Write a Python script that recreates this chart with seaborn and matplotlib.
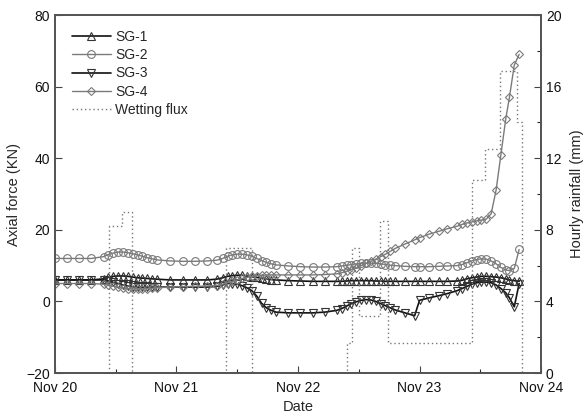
import matplotlib
matplotlib.use("Agg")
import matplotlib.pyplot as plt
import seaborn as sns
import pandas as pd
from matplotlib.ticker import MultipleLocator

# time in days since Nov 20 00:00
days = [0.0, 0.1, 0.2, 0.3,
        0.40, 0.44, 0.48, 0.52, 0.56, 0.60, 0.64, 0.68, 0.72, 0.76, 0.80, 0.84,
        0.95, 1.05, 1.15, 1.25, 1.33,
        1.38, 1.42, 1.46, 1.50, 1.54, 1.58, 1.62, 1.66, 1.70, 1.74, 1.78, 1.82,
        1.92, 2.02, 2.12, 2.22, 2.32,
        2.36, 2.40, 2.44, 2.48, 2.52, 2.56, 2.60, 2.64, 2.68, 2.72, 2.76, 2.80,
        2.88, 2.96, 3.00, 3.08, 3.16, 3.23, 3.31,
        3.35, 3.39, 3.43, 3.47, 3.51, 3.55, 3.59, 3.63, 3.67, 3.71, 3.74, 3.78, 3.82]

sg1 = [6, 6, 6, 6,
       6.3, 6.8, 7, 7.1, 7.1, 7, 6.8, 6.6, 6.5, 6.4, 6.3, 6.2,
       6, 6, 6, 6, 6.2,
       6.6, 7, 7.2, 7.3, 7.3, 7.1, 6.9, 6.7, 6.5, 6.3, 6.1, 6,
       5.8, 5.7, 5.6, 5.6, 5.6,
       5.6, 5.7, 5.8, 5.8, 5.8, 5.8, 5.8, 5.7, 5.7, 5.6, 5.6, 5.6,
       5.6, 5.6, 5.6, 5.6, 5.6, 5.6, 5.7,
       5.9, 6.3, 6.6, 6.8, 7, 7, 6.9, 6.8, 6.6, 6.3, 6, 5.8, 5.6]

sg2 = [12, 12, 12, 12,
       12.5, 13.1, 13.5, 13.8, 13.8, 13.6, 13.3, 13, 12.6, 12.2, 11.9, 11.6,
       11.3, 11.2, 11.2, 11.3, 11.5,
       12, 12.6, 13, 13.2, 13.2, 13, 12.6, 12, 11.4, 10.9, 10.5, 10.2,
       9.9, 9.7, 9.6, 9.6, 9.7,
       9.9, 10.1, 10.3, 10.5, 10.6, 10.7, 10.7, 10.6, 10.5, 10.3, 10.1, 10,
       9.8, 9.7, 9.7, 9.7, 9.8, 9.9, 10,
       10.3, 10.8, 11.3, 11.7, 11.9, 11.8, 11.3, 10.5, 9.5, 8.8, 8.6, 9.2, 14.5]

sg3 = [6, 6, 6, 6,
       6, 5.7, 5.3, 5, 4.6, 4.3, 4.1, 4, 4, 4, 4, 4,
       4, 4, 4, 4, 4.2,
       4.6, 5, 5, 4.8, 4.4, 3.8, 3, 1.5, -0.5, -1.8, -2.5, -3,
       -3.2, -3.2, -3.2, -3, -2.5,
       -2, -1.3, -0.6, -0.1, 0.3, 0.5, 0.4, 0, -0.6, -1.2, -1.8, -2.4,
       -3.2, -4, 0.3, 1, 1.6, 2.2, 3,
       3.6, 4.2, 4.8, 5.2, 5.4, 5.4, 5.2, 4.6, 3.6, 2.4, 1, -1.5, 5]

sg4 = [5, 5, 5, 5,
       4.8, 4.5, 4.2, 4, 3.8, 3.6, 3.5, 3.5, 3.5, 3.6, 3.7, 3.8,
       4, 4.1, 4.2, 4.3, 4.4,
       4.8, 5.2, 5.6, 6, 6.4, 6.7, 7, 7.2, 7.3, 7.4, 7.4, 7.4,
       7.4, 7.4, 7.4, 7.5, 7.7,
       8, 8.4, 8.9, 9.4, 10, 10.6, 11.2, 11.8, 12.5, 13.2, 14, 14.8,
       16, 17.2, 17.8, 18.8, 19.6, 20.3, 21,
       21.5, 21.9, 22.2, 22.5, 22.7, 23, 24.5, 31, 41, 51, 57, 66, 69]

# hourly rainfall (step changes)
rain_t = [0.0, 0.445, 0.548, 0.636, 1.407, 1.618, 2.403, 2.442, 2.501,
          2.674, 2.742, 3.428, 3.538, 3.661, 3.802, 3.842]
rain_v = [0, 8.2, 9.0, 0, 7.0, 0, 1.7, 7.0, 3.2,
          8.5, 1.7, 10.8, 12.5, 16.9, 14.0, 0]

date_ticks = [0, 1, 2, 3, 4]
date_labels = ["Nov 20", "Nov 21", "Nov 22", "Nov 23", "Nov 24"]

sns.set_style("ticks")
plt.rcParams["font.family"] = ["Liberation Sans", "DejaVu Sans"]

fig = plt.figure(figsize=(5.85, 4.17), dpi=100)
ax = fig.add_axes([0.094, 0.1055, 0.8308, 0.8585])
ax2 = ax.twinx()

df = pd.DataFrame({"day": days, "SG-1": sg1, "SG-2": sg2, "SG-3": sg3, "SG-4": sg4})

styles = {
    "SG-1": dict(marker="^", color="#111111", mec="#333333", lw=1.2, ms=5.5),
    "SG-2": dict(marker="o", color="#7a7a7a", mec="#7a7a7a", lw=1.0, ms=5.6),
    "SG-3": dict(marker="v", color="#111111", mec="#333333", lw=1.2, ms=5.5),
    "SG-4": dict(marker="D", color="#7a7a7a", mec="#7a7a7a", lw=1.0, ms=4.5),
}

handles = []
for name in ["SG-1", "SG-2", "SG-3", "SG-4"]:
    st = styles[name]
    sns.lineplot(data=df, x="day", y=name, ax=ax, color=st["color"], lw=st["lw"],
                 marker=st["marker"], markersize=st["ms"], markerfacecolor="none",
                 markeredgecolor=st["mec"], markeredgewidth=0.8, legend=False, sort=False)
    handles.append(ax.lines[-1])

sns.lineplot(x=rain_t, y=rain_v, ax=ax2, color="#777777", lw=1.0, linestyle=(0, (1, 2)),
             drawstyle="steps-post", legend=False, sort=False)
handles.append(ax2.lines[-1])

ax.set_xlim(0, 4)
ax.set_ylim(-20, 80)
ax2.set_ylim(0, 20)
ax.set_xticks(date_ticks)
ax.set_xticklabels(date_labels)
ax.xaxis.set_minor_locator(MultipleLocator(0.5))
ax.set_yticks([-20, 0, 20, 40, 60, 80])
ax2.set_yticks([0, 4, 8, 12, 16, 20])
ax2.yaxis.set_minor_locator(MultipleLocator(2))

ax.tick_params(axis="both", which="major", direction="in", length=5, width=0.8,
               labelsize=10, labelcolor="#111111", color="#444444", top=False, right=False)
ax.tick_params(axis="x", which="major", pad=6)
ax.tick_params(axis="x", which="minor", direction="in", length=3, width=0.8, top=False)
ax2.tick_params(axis="y", which="major", direction="in", length=5, width=0.8,
                labelsize=10, labelcolor="#111111", color="#444444")
ax2.tick_params(axis="y", which="minor", direction="in", length=3, width=0.8)

for a in (ax, ax2):
    for s in a.spines.values():
        s.set_color("#555555")
        s.set_linewidth(1.3)
        s.set_visible(True)

ax.set_xlabel("Date", fontsize=10.5, labelpad=3)
ax.set_ylabel("Axial force (KN)", fontsize=10.5, labelpad=4)
ax2.set_ylabel("Hourly rainfall (mm)", fontsize=10.5, labelpad=6)

leg = ax2.legend(handles, ["SG-1", "SG-2", "SG-3", "SG-4", "Wetting flux"],
                 loc="upper left", bbox_to_anchor=(0.015, 0.985), frameon=False,
                 fontsize=10, handlelength=2.8, handletextpad=0.3, labelspacing=0.3,
                 borderaxespad=0.3)

fig.savefig("out.png", dpi=100)
